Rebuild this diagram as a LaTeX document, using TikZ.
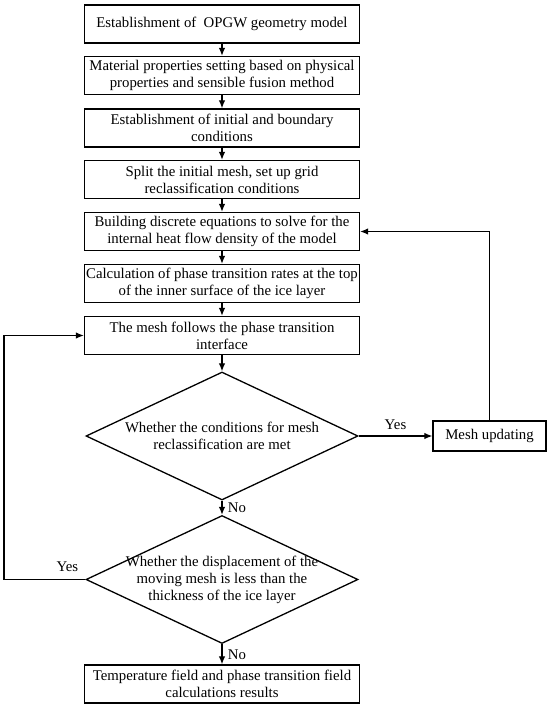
\documentclass[tikz,border=0pt]{standalone}
\usepackage{fontspec}
\setmainfont{Liberation Serif}
\usepackage{tikz}
\usetikzlibrary{shapes.geometric}
\usetikzlibrary{arrows.meta}

\tikzset{
  process/.style={draw,line width=1.3pt,rectangle,minimum width=275pt,minimum height=38pt,align=center,inner sep=1pt},
  decision/.style={draw,line width=1.3pt,diamond,minimum width=272pt,minimum height=128pt,inner sep=0pt},
  qtext/.style={align=center},
  flow/.style={line width=1.2pt,-{Latex[length=8pt,width=6.5pt]}}
}

\begin{document}
\begin{tikzpicture}[x=1pt,y=-1pt,font=\fontsize{14.8}{17}\selectfont]
  \useasboundingbox (0,0) rectangle (550,707);
  \node[process] (b1) at (222,24) {Establishment of \ OPGW geometry model};
  \node[process] (b2) at (222,75.5) {Material properties setting based on physical\\properties and sensible fusion method};
  \node[process] (b3) at (222,128) {Establishment of initial and boundary\\conditions};
  \node[process] (b4) at (222,179.5) {Split the initial mesh, set up grid\\reclassification conditions};
  \node[process] (b5) at (222,231.5) {Building discrete equations to solve for the\\internal heat flow density of the model};
  \node[process] (b6) at (222,283.5) {Calculation of phase transition rates at the top\\of the inner surface of the ice layer};
  \node[process] (b7) at (222,335.5) {The mesh follows the phase transition\\interface};
  \node[decision] (d1) at (222,436) {};
  \node[qtext] (d1text) at (d1.center) {Whether the conditions for mesh\\reclassification are met};
  \node[process,minimum width=113pt,minimum height=30pt] (mesh) at (489.5,436) {Mesh updating};
  \node[decision] (d2) at (222,579.5) {};
  \node[qtext] (d2text) at (d2.center) {Whether the displacement of the\\moving mesh is less than the\\thickness of the ice layer};
  \node[process] (res) at (222,684) {Temperature field and phase transition field\\calculations results};
  \coordinate (back) at (4,579.5);

  \draw[flow] (b1) -- (b2);
  \draw[flow] (b2) -- (b3);
  \draw[flow] (b3) -- (b4);
  \draw[flow] (b4) -- (b5);
  \draw[flow] (b5) -- (b6);
  \draw[flow] (b6) -- (b7);
  \draw[flow] (b7) -- (d1);
  \draw[flow] (d1.east) -- node[above=2pt] {Yes} (mesh.west);
  \draw[flow] (mesh.north) |- (b5.east);
  \draw[flow] (d1.south) -- node[right=2pt] {No} (d2.north);
  \draw[flow] (d2.west) -- node[pos=0.22,above=4pt] {Yes} (back) |- (b7.west);
  \draw[flow] (d2.south) -- node[right=2pt] {No} (res.north);
\end{tikzpicture}
\end{document}
